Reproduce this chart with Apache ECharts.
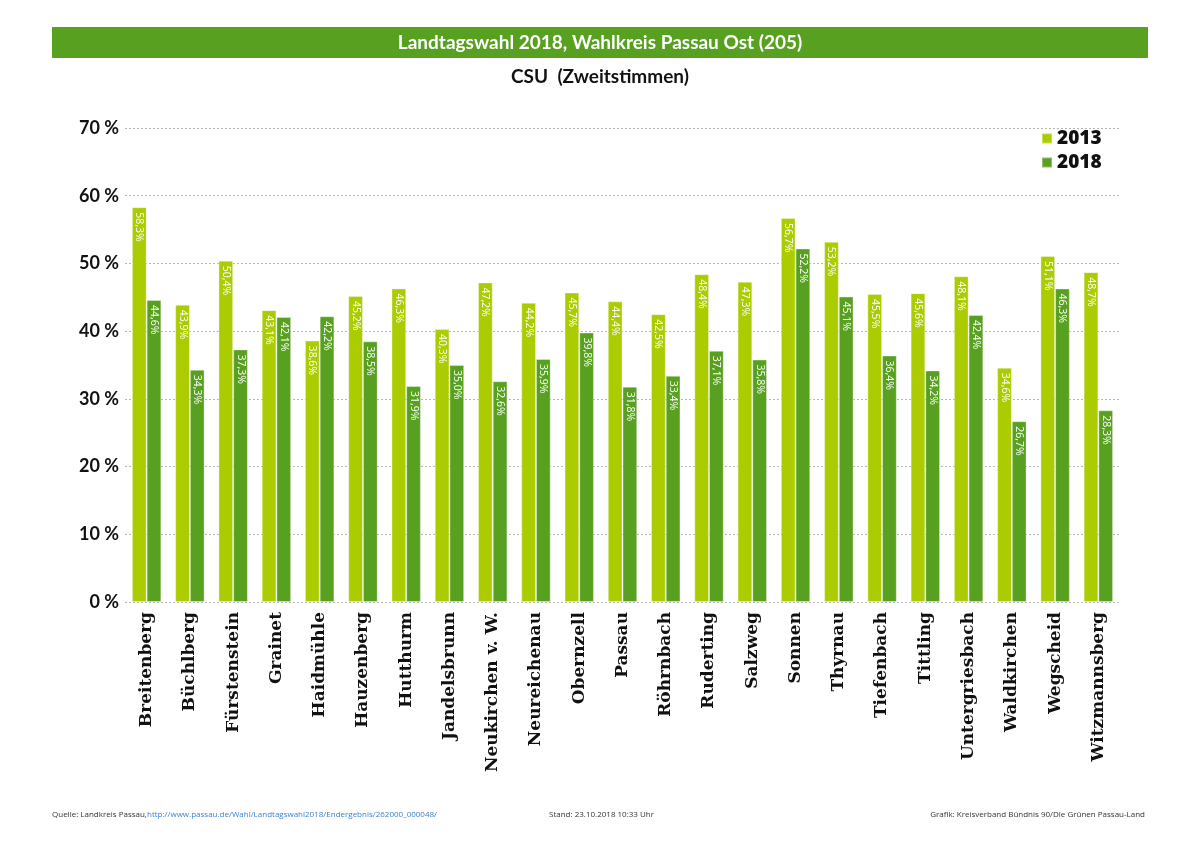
<!DOCTYPE html>
<html>
<head>
<meta charset="utf-8">
<title>Landtagswahl 2018, Wahlkreis Passau Ost (205)</title>
<script src="https://cdn.jsdelivr.net/npm/echarts@6/dist/echarts.min.js"></script>
<style>
  html, body { margin: 0; padding: 0; background: #fff; }
  #chart { width: 1200px; height: 848px; }
</style>
</head>
<body>
<div id="chart"></div>
<script>
// Gemeinden im Wahlkreis
var gemeinden = ['Breitenberg', 'Büchlberg', 'Fürstenstein', 'Grainet', 'Haidmühle', 'Hauzenberg',
  'Hutthurm', 'Jandelsbrunn', 'Neukirchen v. W.', 'Neureichenau', 'Obernzell', 'Passau',
  'Röhrnbach', 'Ruderting', 'Salzweg', 'Sonnen', 'Thyrnau', 'Tiefenbach', 'Tittling',
  'Untergriesbach', 'Waldkirchen', 'Wegscheid', 'Witzmannsberg'];

// CSU Zweitstimmen in %
var csu2013 = [58.3, 43.9, 50.4, 43.1, 38.6, 45.2, 46.3, 40.3, 47.2, 44.2, 45.7, 44.4,
  42.5, 48.4, 47.3, 56.7, 53.2, 45.5, 45.6, 48.1, 34.6, 51.1, 48.7];
var csu2018 = [44.6, 34.3, 37.3, 42.1, 42.2, 38.5, 31.9, 35.0, 32.6, 35.9, 39.8, 31.8,
  33.4, 37.1, 35.8, 52.2, 45.1, 36.4, 34.2, 42.4, 26.7, 46.3, 28.3];

var achseMax = 70;
var achseSchritt = 10;

var hellgruen = '#aacc00';
var gruen = '#58a01f';

var chart = echarts.init(document.getElementById('chart'));

// rotated white value inside the bar, German decimal comma
var wertLabel = {
  show: true,
  position: 'insideTop',
  rotate: -90,
  align: 'left',
  verticalAlign: 'middle',
  distance: 5,
  color: '#fff',
  fontFamily: "'Open Sans', sans-serif",
  fontSize: 10.5,
  formatter: function (p) {
    return p.value.toFixed(1).replace('.', ',') + '%';
  }
};

var option = {
  backgroundColor: '#fff',
  animation: false,

  // title band, subtitle and footer
  graphic: [
    {
      type: 'rect',
      shape: { x: 52, y: 27, width: 1096, height: 31 },
      style: { fill: gruen }
    },
    {
      type: 'text',
      x: 600, y: 43,
      style: {
        text: 'Landtagswahl 2018, Wahlkreis Passau Ost (205)',
        fill: '#fff', font: "bold 19px Lato, sans-serif",
        textAlign: 'center', textVerticalAlign: 'middle'
      }
    },
    {
      type: 'text',
      x: 600, y: 77,
      style: {
        text: 'CSU  (Zweitstimmen)',
        fill: '#111', font: "bold 19px Lato, sans-serif",
        textAlign: 'center', textVerticalAlign: 'middle'
      }
    },
    {
      type: 'text',
      x: 52, y: 815,
      style: {
        text: 'Quelle: Landkreis Passau, ',
        fill: '#333', font: "8px 'Open Sans', sans-serif",
        textVerticalAlign: 'middle'
      }
    },
    {
      type: 'text',
      x: 147, y: 815,
      style: {
        text: 'http://www.passau.de/Wahl/Landtagswahl2018/Endergebnis/262000_000048/',
        fill: '#3a7fd0', font: "8px 'Open Sans', sans-serif",
        textVerticalAlign: 'middle'
      }
    },
    {
      type: 'text',
      x: 549, y: 815,
      style: {
        text: 'Stand: 23.10.2018 10:33 Uhr',
        fill: '#333', font: "8px 'Open Sans', sans-serif",
        textVerticalAlign: 'middle'
      }
    },
    {
      type: 'text',
      x: 1145, y: 815,
      style: {
        text: 'Grafik: Kreisverband Bündnis 90/Die Grünen Passau-Land',
        fill: '#333', font: "8px 'Open Sans', sans-serif",
        textAlign: 'right', textVerticalAlign: 'middle'
      }
    }
  ],

  legend: {
    orient: 'vertical',
    left: 1036,
    top: 124,
    itemWidth: 10,
    itemHeight: 10,
    itemGap: 5,
    icon: 'rect',
    textStyle: {
      fontFamily: "'Open Sans', sans-serif",
      fontWeight: 900,
      fontSize: 19,
      color: '#111'
    },
    data: ['2013', '2018']
  },

  grid: {
    left: 125,
    right: 80,
    top: 128,
    bottom: 246
  },

  xAxis: {
    type: 'category',
    data: gemeinden,
    axisLine: { show: false },
    axisTick: { show: false },
    axisLabel: {
      interval: 0,
      rotate: 90,
      margin: 10,
      color: '#111',
      fontFamily: "'DejaVu Serif', serif",
      fontWeight: 'bold',
      fontSize: 17
    }
  },

  yAxis: {
    type: 'value',
    min: 0,
    max: achseMax,
    interval: achseSchritt,
    axisLine: { show: false },
    axisTick: { show: false },
    axisLabel: {
      margin: 6,
      color: '#111',
      fontFamily: 'Lato, sans-serif',
      fontWeight: 'bold',
      fontSize: 18,
      formatter: '{value} %'
    },
    splitLine: {
      lineStyle: { color: '#b5b5b5', type: [2, 2], width: 1 }
    }
  },

  series: [
    {
      name: '2013',
      type: 'bar',
      data: csu2013,
      barGap: '0%',
      barCategoryGap: '32%',
      itemStyle: { color: hellgruen, borderColor: 'rgba(255,255,255,0.35)', borderWidth: 1 },
      label: wertLabel
    },
    {
      name: '2018',
      type: 'bar',
      data: csu2018,
      itemStyle: { color: gruen, borderColor: 'rgba(255,255,255,0.35)', borderWidth: 1 },
      label: wertLabel
    }
  ]
};

chart.setOption(option);
</script>
</body>
</html>
